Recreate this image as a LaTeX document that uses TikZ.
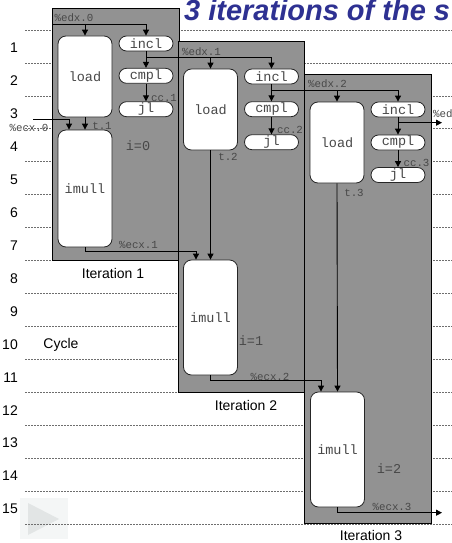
\documentclass[tikz,border=0pt]{standalone}
\usepackage{fontspec}
\setmainfont{Liberation Sans}
\setmonofont{Liberation Mono}
\usetikzlibrary{arrows.meta,calc}
\definecolor{boxgray}{RGB}{146,146,146}
\definecolor{titleblue}{RGB}{46,49,146}
\definecolor{txtgray}{RGB}{72,72,72}
\definecolor{gridgray}{RGB}{110,110,110}
\definecolor{playbg}{RGB}{244,246,246}
\definecolor{playfg}{RGB}{226,229,229}
\begin{document}
\begin{tikzpicture}[x=1pt,y=-1pt,
  gridline/.style={draw=gridgray, line width=0.6pt, dash pattern=on 2pt off 1pt},
  itbox/.style={draw=black, fill=boxgray, line width=0.9pt},
  unitbox/.style={draw=black!85, fill=white, line width=0.8pt, rounded corners=8pt, minimum width=54pt, inner sep=0pt, font=\ttfamily\fontsize{13.5}{15}\selectfont, text=txtgray},
  pill/.style={draw=black!85, fill=white, line width=0.8pt, rounded corners=7.5pt, minimum width=54pt, minimum height=15pt, inner sep=0pt, font=\ttfamily\fontsize{13.5}{15}\selectfont, text=txtgray},
  conn/.style={draw=black, line width=0.9pt},
  arr/.style={conn, -{Triangle[length=6pt,width=6pt]}},
  lbl/.style={font=\ttfamily\fontsize{10.8}{12}\selectfont, text=txtgray, inner sep=0pt},
  ival/.style={font=\ttfamily\fontsize{13.5}{15}\selectfont, text=txtgray, inner sep=0pt},
  sanslbl/.style={font=\fontsize{14}{16}\selectfont, inner sep=0pt},
  cyc/.style={font=\fontsize{14}{16}\selectfont, inner sep=0pt, anchor=east},
]
\useasboundingbox (0,0) rectangle (452,543);
\clip (0,0) rectangle (452,543);
\fill[white] (0,0) rectangle (452,543);

% play button
\fill[playbg] (20,498) rectangle (68,539);
\fill[playfg] (28,503) -- (28,535) -- (59,519) -- cycle;

% cycle grid
\foreach \k in {0,...,15} \draw[gridline] (25,{30+32.93*\k}) -- (452,{30+32.93*\k});
\foreach \k in {1,...,15} \node[cyc] (n\k) at (18,{30+32.93*(\k-1)+18}) {\k};

% title
\node[anchor=base west, inner sep=0pt, font=\fontsize{29}{30}\selectfont\bfseries\itshape, text=titleblue] (title) at (184,21) {3 iterations of the s};

% iteration boxes
\draw[itbox] (52.5,8) rectangle (179,260);
\draw[itbox] (178.5,41) rectangle (304.5,392);
\draw[itbox] (304.5,74) rectangle (431,523.5);

% iteration 1
\node[unitbox, minimum height=81pt] (load1) at (85,76.5) {load};
\node[pill] (incl1) at (146,43.5) {incl};
\node[pill] (cmpl1) at (146,75.8) {cmpl};
\node[pill] (jl1) at (146,109.2) {jl};
\node[unitbox, minimum height=117pt] (imull1) at (85,188.5) {imull};
% iteration 2
\node[unitbox, minimum height=81pt] (load2) at (210.5,109.5) {load};
\node[pill] (incl2) at (271.5,76.5) {incl};
\node[pill] (cmpl2) at (271.5,109.2) {cmpl};
\node[pill] (jl2) at (271.5,142.2) {jl};
\node[unitbox, minimum height=115pt] (imull2) at (210.5,317.5) {imull};
% iteration 3
\node[unitbox, minimum height=81pt] (load3) at (337,142.5) {load};
\node[pill] (incl3) at (398,109.5) {incl};
\node[pill] (cmpl3) at (398,142.5) {cmpl};
\node[pill] (jl3) at (398,175) {jl};
\node[unitbox, minimum height=115pt] (imull3) at (337.5,449.5) {imull};

% edx chain
\coordinate (e0) at (52.5,24);
\draw[arr] (e0) -| (incl1.north);
\draw[arr] (e0 -| load1.north) -- (load1.north);
\coordinate (j1) at (146,57.3);
\draw[arr] (incl1.south) -- (cmpl1.north);
\draw[arr] (j1) -| (incl2.north);
\draw[arr] (j1 -| load2.north) -- (load2.north);
\coordinate (j2) at (271.5,90.7);
\draw[arr] (incl2.south) -- (cmpl2.north);
\draw[arr] (j2) -| (incl3.north);
\draw[arr] (j2 -| load3.north) -- (load3.north);
\coordinate (j3) at (398,122.7);
\coordinate (edxout) at (442,122.7);
\draw[arr] (incl3.south) -- (cmpl3.north);
\draw[arr] (j3) -- (edxout);

% condition codes
\draw[arr] (cmpl1.south) -- (jl1.north);
\draw[arr] (cmpl2.south) -- (jl2.north);
\draw[arr] (cmpl3.south) -- (jl3.north);

% loads to multiplies
\draw[arr] (load1.south) -- (imull1.north);
\draw[arr] (load2.south) -- (imull2.north);
\draw[arr] (load3.south) -- (imull3.north);

% ecx chain
\coordinate (c0) at (33,119.3);
\draw[conn, line width=1.6pt, draw=black!75] (c0) -- (52.5,119.3);
\draw[arr] (c0) -| ($(imull1.north)+(-16,0)$);
\coordinate (k1) at (85,251.7);
\draw[arr] (imull1.south) -- (k1) -| ($(imull2.north)+(-14.5,0)$);
\coordinate (k2) at (210.5,380.5);
\draw[arr] (imull2.south) -- (k2) -| ($(imull3.north)+(-16.5,0)$);
\coordinate (k3) at (337.5,512.7);
\coordinate (ecxout) at (442,512.7);
\draw[arr] (imull3.south) -- (k3) -- (ecxout);

% labels
\node[lbl] (le0) at (74,18) {\%edx.0};
\node[lbl] (le1) at (201.5,51.5) {\%edx.1};
\node[lbl] (le2) at (327.5,84) {\%edx.2};
\node[lbl, anchor=west] (le3) at (433,113.5) {\%ed};
\node[lbl] (lc1) at (164,97.5) {cc.1};
\node[lbl] (lc2) at (290,129.5) {cc.2};
\node[lbl] (lc3) at (416.5,162.7) {cc.3};
\node[lbl] (lt1) at (102,125.7) {t.1};
\node[lbl] (lt2) at (228,157.3) {t.2};
\node[lbl] (lt3) at (354,193) {t.3};
\node[lbl] (lx0) at (29,128) {\%ecx.0};
\node[lbl] (lx1) at (138.5,245) {\%ecx.1};
\node[lbl] (lx2) at (270,376.7) {\%ecx.2};
\node[lbl] (lx3) at (392,506.7) {\%ecx.3};

\node[ival] (i0) at (138,146) {i=0};
\node[ival] (i1) at (251,341) {i=1};
\node[ival] (i2) at (389,469) {i=2};

\node[sanslbl] (it1) at (113,273) {Iteration 1};
\node[sanslbl] (it2) at (246,405) {Iteration 2};
\node[sanslbl] (it3) at (371,535) {Iteration 3};
\node[sanslbl] (cyc) at (61,345) {Cycle};
\end{tikzpicture}
\end{document}
